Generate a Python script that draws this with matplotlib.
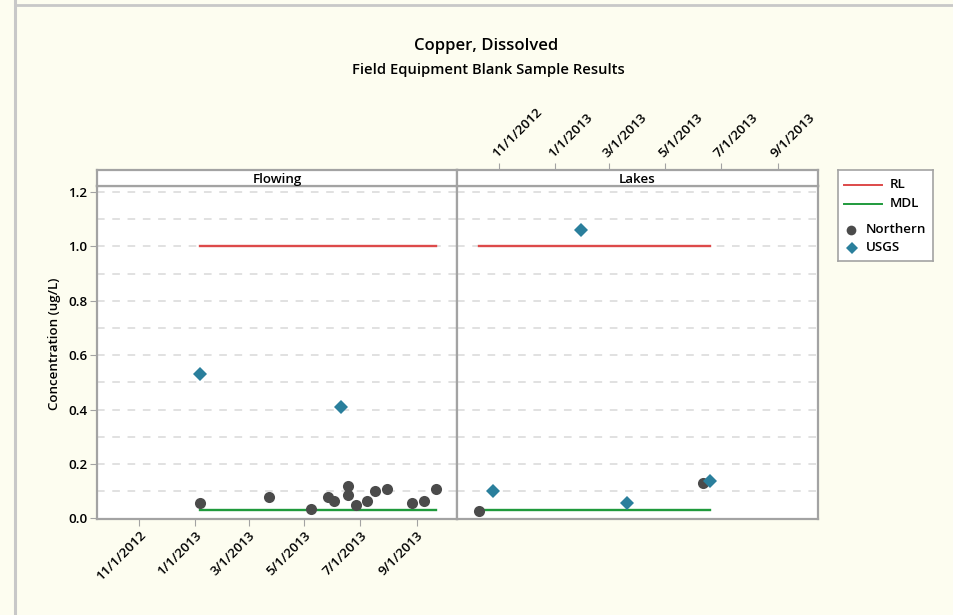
import matplotlib.pyplot as plt
import matplotlib.dates as mdates
import numpy as np
import pandas as pd
from matplotlib.lines import Line2D

plt.rcParams['font.family'] = ['Open Sans', 'DejaVu Sans']

# Sample results, one set per site type
flow_northern_dates = ['2013-01-07', '2013-03-23', '2013-05-08', '2013-05-27', '2013-06-02',
                       '2013-06-18', '2013-06-18', '2013-06-27', '2013-07-08', '2013-07-17',
                       '2013-07-30', '2013-08-27', '2013-09-09', '2013-09-22']
flow_northern_vals = [0.058, 0.080, 0.036, 0.080, 0.065, 0.118, 0.087, 0.050, 0.065, 0.102,
                      0.109, 0.058, 0.065, 0.109]
flow_usgs_dates = ['2013-01-07', '2013-06-10']
flow_usgs_vals = [0.53, 0.41]

lake_northern_dates = ['2012-10-10', '2013-06-11']
lake_northern_vals = [0.029, 0.132]
lake_usgs_dates = ['2012-10-25', '2013-01-29', '2013-03-21', '2013-06-19']
lake_usgs_vals = [0.10, 1.06, 0.058, 0.138]

rl_value = 1.0
mdl_value = 0.03

tick_dates = ['2012-11-01', '2013-01-01', '2013-03-01', '2013-05-01', '2013-07-01', '2013-09-01']
tick_labels = ['11/1/2012', '1/1/2013', '3/1/2013', '5/1/2013', '7/1/2013', '9/1/2013']
x_range = ['2012-09-16', '2013-10-15']

panels = [
    ('Flowing', flow_northern_dates, flow_northern_vals, flow_usgs_dates, flow_usgs_vals),
    ('Lakes', lake_northern_dates, lake_northern_vals, lake_usgs_dates, lake_usgs_vals),
]

bg = '#fdfdf0'
frame = '#a3a3a3'
red = '#dd4a4a'
green = '#1f9a3c'
dark = '#4b4b4b'
teal = '#2a7f9c'
semi = 600
lab_size = 9.6

W, H = 954, 615
fig = plt.figure(figsize=(W / 100, H / 100), dpi=100, facecolor=bg)

def fx(px):
    return px / W

def fy(py):
    return 1 - py / H

# outer border lines
fig.add_artist(Line2D([fx(15), fx(15)], [0, 1], color='#c8c8c8', lw=2.2))
fig.add_artist(Line2D([fx(16), 1], [fy(4.5), fy(4.5)], color='#c8c8c8', lw=2.0))

fig.text(fx(486), fy(46), 'Copper, Dissolved', ha='center', va='center', fontsize=12,
         fontweight=semi)
fig.text(fx(488), fy(70), 'Field Equipment Blank Sample Results', ha='center', va='center',
         fontsize=10.6, fontweight=semi)

xlim = [mdates.date2num(pd.Timestamp(d)) for d in x_range]
ticks = [mdates.date2num(pd.Timestamp(d)) for d in tick_dates]

lefts = [97, 457]
rights = [457, 818]
plot_top, plot_bot, strip_top = 186, 519, 170

for i, (name, nd, nv, ud, uv) in enumerate(panels):
    ax = fig.add_axes([fx(lefts[i]), fy(plot_bot), fx(rights[i] - lefts[i]),
                       (plot_bot - plot_top) / H])
    sx = fig.add_axes([fx(lefts[i]), fy(plot_top), fx(rights[i] - lefts[i]),
                       (plot_top - strip_top) / H])
    ax.set_facecolor('white')
    sx.set_facecolor('white')

    nd = pd.to_datetime(nd)
    ud = pd.to_datetime(ud)
    for y in np.arange(0.1, 1.25, 0.1):
        ax.axhline(y, color='#d9d9d9', lw=1.1, ls=(0, (5, 5)), zorder=1)

    start = min(nd.min(), ud.min())
    end = max(nd.max(), ud.max())
    ax.plot([start, end], [rl_value, rl_value], color=red, lw=1.7, zorder=2)
    ax.plot([start, end], [mdl_value, mdl_value], color=green, lw=1.7, zorder=2)
    ax.plot(nd, nv, 'o', color=dark, ms=8, mew=0, zorder=3)
    ax.plot(ud, uv, 'D', color=teal, ms=6.8, mew=0, zorder=4)

    ax.set_xlim(xlim)
    ax.set_ylim(-0.002, 1.222)
    sx.set_xlim(xlim)
    sx.set_ylim(0, 1)
    sx.set_yticks([])
    sx.text(0.5, 0.42, name, transform=sx.transAxes, ha='center', va='center',
            fontsize=lab_size, fontweight=semi)

    for a in (ax, sx):
        for s in a.spines.values():
            s.set_color(frame)
            s.set_linewidth(1.6)

    ax.set_xticks(ticks)
    sx.set_xticks(ticks)
    if i == 0:
        ax.set_xticklabels(tick_labels, rotation=45, ha='right', va='top',
                           rotation_mode='anchor', fontsize=lab_size, fontweight=semi)
        ax.tick_params(axis='x', length=5, color=frame, pad=2)
        sx.tick_params(axis='x', bottom=False, labelbottom=False)
        ax.set_yticks(np.arange(0, 1.21, 0.2))
        ax.set_yticklabels(['%.1f' % v for v in np.arange(0, 1.21, 0.2)],
                           fontsize=lab_size, fontweight=semi)
        ax.tick_params(axis='y', length=5, color=frame, pad=2)
        ax.set_ylabel('Concentration (ug/L)', fontsize=lab_size, fontweight=semi)
        ax.yaxis.set_label_coords(-0.100, 0.526)
    else:
        ax.tick_params(axis='x', bottom=False, labelbottom=False)
        ax.set_yticks([])
        sx.tick_params(axis='x', bottom=False, labelbottom=False, top=True, labeltop=True,
                       length=5, color=frame, pad=2)
        sx.set_xticklabels(tick_labels, rotation=45, ha='left', va='bottom',
                           rotation_mode='anchor', fontsize=lab_size, fontweight=semi)

# legend box drawn by hand so the markers sit at the left like the line keys
lg = fig.add_axes([fx(838), fy(261), fx(95), 91 / H])
lg.set_xlim(0, 95)
lg.set_ylim(91, 0)
lg.set_xticks([])
lg.set_yticks([])
lg.set_facecolor('white')
for s in lg.spines.values():
    s.set_color(frame)
    s.set_linewidth(1.2)
lg.plot([6, 44], [15, 15], color=red, lw=1.4)
lg.plot([6, 44], [34, 34], color=green, lw=1.4)
lg.plot([13], [60], 'o', color=dark, ms=7, mew=0)
lg.plot([14.5], [78], 'D', color=teal, ms=6.3, mew=0)
for tx, ty, t in [(52, 15, 'RL'), (52, 34, 'MDL'), (28, 60, 'Northern'), (28, 78, 'USGS')]:
    lg.text(tx, ty, t, ha='left', va='center', fontsize=lab_size, fontweight=semi)

fig.savefig('out.png', dpi=100, facecolor=bg)
